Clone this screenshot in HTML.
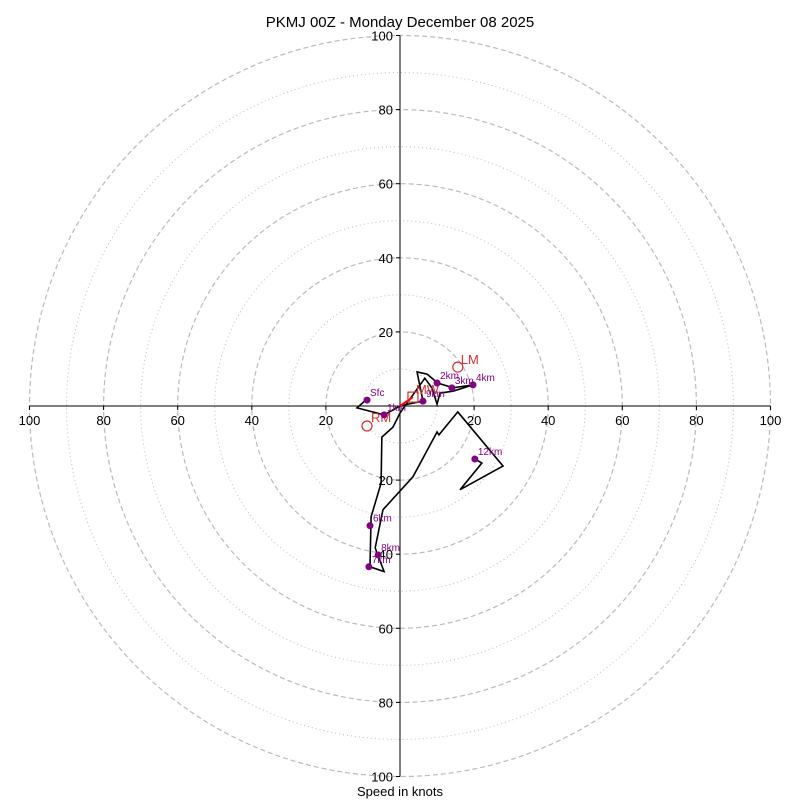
<!DOCTYPE html>
<html><head><meta charset="utf-8"><style>
body{margin:0;background:#fff}
svg{display:block;font-family:"Liberation Sans","DejaVu Sans",sans-serif}
</style></head><body>
<svg id="c" width="800" height="800">
<text x="400" y="27" font-size="15" text-anchor="middle">PKMJ 00Z - Monday December 08 2025</text>
<text x="400" y="796" font-size="13" text-anchor="middle">Speed in knots</text>
<g id="g"></g>
</svg>
<script>
const traceU=[-8.9,-11.6,-4.3,0,2.2,6.2,4.6,7.3,10.2,14.3,19.7,14.3,10.8,10.0,8.6,6.7,0,-1.9,-4.9,-5.1,-7.8,-8.1,-4.3,-6.7,-4.6,3.5,10.0,10.5,15.6,27.8,16.2,22.1,20.2];
const traceV=[1.9,-0.5,-2.4,0,0.5,1.3,9.2,8.6,6.2,4.9,5.7,4.0,3.5,0.5,4.9,7.5,-1.9,-5.7,-8.4,-20.8,-29.9,-43.4,-44.7,-38.3,-28.0,-19.1,-7.0,-7.8,-1.6,-16.2,-22.6,-15.4,-14.3];
const markLabels=["Sfc","1km","9km","2km","3km","4km","6km","7km","8km","12km"];
const markU=[-8.9,-4.3,6.2,10.0,14.0,19.7,-8.1,-8.4,-5.9,20.2];
const markV=[1.6,-2.4,1.3,6.2,4.9,5.7,-32.3,-43.4,-40.2,-14.3];
const ticks=[-100,-80,-60,-40,-20,20,40,60,80,100];
const rings=[10,20,30,40,50,60,70,80,90,100];
const lm=[15.6,10.5], rm=[-8.9,-5.4], mw=[3.5,2.4];
const CX=400,CY=406,S=3.705;
const X=u=>CX+u*S, Y=v=>CY-v*S;
const g=document.getElementById('g');
const NS='http://www.w3.org/2000/svg';
function mk(t,a,txt){const e=document.createElementNS(NS,t);for(const k in a)e.setAttribute(k,a[k]);if(txt!==undefined)e.textContent=txt;g.appendChild(e);return e;}
rings.forEach(r=>{
 const e=mk('circle',{cx:CX,cy:CY,r:r*S,fill:'none',stroke:'#bbb','stroke-width':r%20?1:1.2,'stroke-dasharray':r%20?'1,3':'5,3'});
 
 
});
let a=mk('line',{x1:X(-100),y1:CY,x2:X(100),y2:CY,stroke:'#000'});


a=mk('line',{x1:CX,y1:Y(100),x2:CX,y2:Y(-100),stroke:'#000'});


ticks.forEach(t=>{
 mk('line',{x1:X(t),y1:CY,x2:X(t),y2:CY+4,stroke:'#000'});
 let e=mk('text',{x:X(t),y:CY+19,'font-size':13,'text-anchor':'middle'},Math.abs(t));
 
 
 mk('line',{x1:CX-4,y1:Y(t),x2:CX,y2:Y(t),stroke:'#000'});
 e=mk('text',{x:CX-7,y:Y(t)+5,'font-size':13,'text-anchor':'end'},Math.abs(t));
 
 
});
const pts=traceU.map((u,i)=>X(u)+','+Y(traceV[i])).join(' ');
let p=mk('polyline',{points:pts,fill:'none',stroke:'#000','stroke-width':1.6});


p=mk('line',{x1:X(0),y1:Y(0),x2:X(mw[0]),y2:Y(mw[1]),stroke:'red','stroke-width':2});


p=mk('rect',{x:X(mw[0])-5,y:Y(mw[1])-5,width:10,height:10,fill:'none',stroke:'#c33','stroke-width':1.2});


mk('text',{x:X(mw[0])+3,y:Y(mw[1])-3,'font-size':13,fill:'#c33'},'MW');
p=mk('circle',{cx:X(lm[0]),cy:Y(lm[1]),r:5,fill:'none',stroke:'#c33','stroke-width':1.2});


mk('text',{x:X(lm[0])+3,y:Y(lm[1])-3,'font-size':13,fill:'#c33'},'LM');
p=mk('circle',{cx:X(rm[0]),cy:Y(rm[1]),r:5,fill:'none',stroke:'#c33','stroke-width':1.2});


mk('text',{x:X(rm[0])+4,y:Y(rm[1])-4,'font-size':13,fill:'#c33'},'RM');
markLabels.forEach((l,i)=>{
 const c=mk('circle',{cx:X(markU[i]),cy:Y(markV[i]),r:3.5,fill:'purple'});
 
 
 mk('text',{x:X(markU[i])+3,y:Y(markV[i])-4,'font-size':10,fill:'purple'},l);
});
</script>
</body></html>
